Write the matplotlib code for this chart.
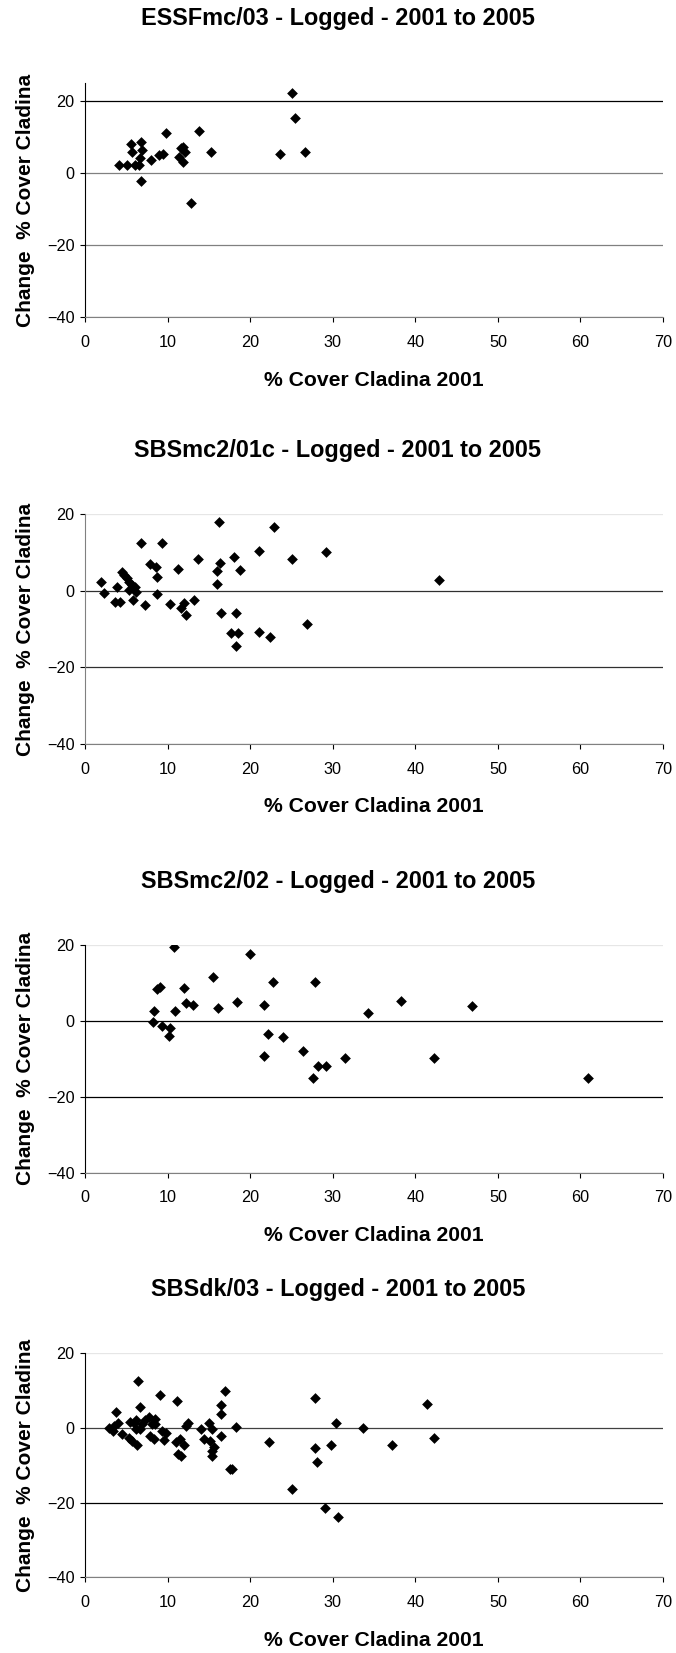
import matplotlib
matplotlib.use("Agg")
import matplotlib.pyplot as plt

plt.rcParams["font.family"] = ["Liberation Sans", "DejaVu Sans"]

# panel titles
titles = [
    "ESSFmc/03 - Logged - 2001 to 2005",
    "SBSmc2/01c - Logged - 2001 to 2005",
    "SBSmc2/02 - Logged - 2001 to 2005",
    "SBSdk/03 - Logged - 2001 to 2005",
]

# ESSFmc/03
essf_x = [4.1, 5.1, 5.5, 5.7, 6.0, 6.5, 6.7, 6.9, 6.6, 6.7, 8.0, 8.9, 9.4, 9.8,
          11.4, 11.6, 11.8, 12.1, 11.8, 12.8, 13.8, 15.2, 23.6, 25.0, 25.4, 26.6]
essf_y = [2.2, 2.2, 8.2, 5.9, 2.2, 2.2, 8.7, 6.4, 4.3, -2.2, 3.6, 5.0, 5.4, 11.3,
          4.5, 7.0, 3.1, 5.9, 7.3, -8.3, 11.8, 5.8, 5.4, 22.2, 15.3, 5.8]

# SBSmc2/01c
mc01_x = [1.9, 2.3, 3.8, 3.6, 4.2, 4.4, 4.7, 5.1, 5.3, 5.7, 6.0, 5.3, 6.2, 5.8,
          7.2, 6.8, 7.9, 8.6, 8.7, 8.7, 9.3, 10.3, 11.2, 11.6, 11.9, 12.2, 13.2,
          13.6, 15.9, 16.0, 16.3, 16.2, 16.5, 18.0, 17.7, 18.3, 18.5, 18.3, 18.8,
          21.1, 21.1, 22.4, 22.9, 25.1, 26.9, 29.2, 42.8]
mc01_y = [2.3, -0.5, 0.9, -3.0, -3.0, 5.0, 4.2, 3.3, 2.4, 1.6, 1.0, 0.3, -0.4, -2.5,
          -3.8, 12.6, 7.0, 6.3, 3.7, -0.9, 12.6, -3.4, 5.7, -4.5, -3.2, -6.3, -2.3,
          8.3, 5.2, 1.7, 7.2, 18.0, -5.8, 8.8, -10.9, -5.8, -10.9, -14.3, 5.4,
          10.4, -10.8, -12.0, 16.7, 8.3, -8.7, 10.1, 2.9]

# SBSmc2/02
mc02_x = [8.15, 8.3, 8.7, 9.1, 9.3, 10.1, 10.3, 10.7, 10.9, 12.0, 12.2, 13.0,
          15.5, 16.1, 18.4, 20.0, 21.7, 21.7, 22.1, 22.8, 24.0, 26.4, 27.6, 27.8,
          28.2, 29.2, 31.5, 34.2, 38.2, 42.2, 46.8, 60.9]
mc02_y = [-0.35, 2.6, 8.4, 8.9, -1.3, -3.9, -1.8, 19.5, 2.5, 8.5, 4.6, 4.1,
          11.4, 3.3, 4.8, 17.6, 4.1, -9.3, -3.4, 10.1, -4.2, -8.1, -15.2, 10.1,
          -11.8, -11.8, -9.7, 2.1, 5.1, -9.9, 3.8, -15.2]

# SBSdk/03
dk_x = [2.9, 3.3, 3.5, 3.7, 4.0, 4.5, 5.3, 5.4, 5.6, 5.9, 6.2, 6.2, 6.3, 6.4,
        6.6, 6.6, 6.9, 7.2, 7.7, 8.1, 8.5, 7.9, 8.3, 8.4, 9.0, 9.3, 9.5, 9.8,
        11.1, 11.0, 11.5, 11.2, 11.6, 12.0, 12.2, 12.5, 14.0, 14.4, 15.0, 15.1,
        15.4, 15.6, 15.4, 15.4, 16.4, 16.4, 16.4, 16.9, 17.5, 17.8, 18.3, 22.3,
        25.1, 27.8, 27.8, 28.1, 29.0, 29.8, 30.4, 30.6, 33.7, 37.2, 41.4, 42.3]
dk_y = [0.0, -0.8, 0.4, 4.3, 1.3, -1.8, -2.7, 1.5, -3.6, 1.2, 2.1, -0.3, -4.5, 12.4,
        5.5, -0.4, 1.1, 2.2, 2.9, 1.1, 2.4, -2.2, -2.9, 0.9, 8.7, -0.9, -3.3, -1.5,
        7.2, -3.8, -3.1, -7.0, -7.6, -4.6, 0.4, 1.3, -0.2, -2.9, 1.3, -3.6,
        -0.4, -5.1, -6.3, -7.6, 6.0, 3.8, -2.2, 9.8, -10.9, -10.9, 0.2, -3.8,
        -16.4, 7.9, -5.3, -9.1, -21.5, -4.5, 1.2, -23.8, -0.1, -4.5, 6.3, -2.7]

xs = [essf_x, mc01_x, mc02_x, dk_x]
ys = [essf_y, mc01_y, mc02_y, dk_y]
ytops = [25, 20, 20, 20]

# gridline colours at -40, -20, 0, 20 and left spine colour per panel
grid_cols = [
    ["#808080", "#808080", "#808080", "#000000"],
    ["#808080", "#303030", "#303030", "#e6e6e6"],
    ["#808080", "#000000", "#000000", "#e6e6e6"],
    ["#808080", "#000000", "#404040", "#e6e6e6"],
]
spine_cols = ["#000000", "#808080", "#000000", "#000000"]

# axes boxes in pixels: top, bottom
W, H = 676, 1653
boxes = [(83.3, 317.3), (514.3, 744.0), (944.7, 1172.7), (1353.0, 1577.3)]
title_y = [18.5, 450.0, 881.5, 1289.5]
left, right = 85.3, 663.0

fig = plt.figure(figsize=(W / 100, H / 100), dpi=100)

for i in range(4):
    top, bot = boxes[i]
    ax = fig.add_axes([left / W, 1 - bot / H, (right - left) / W, (bot - top) / H])
    ax.scatter(xs[i], ys[i], marker="D", s=30, color="black", linewidths=0, zorder=3)
    ax.set_xlim(0, 70)
    ax.set_ylim(-40, ytops[i])
    ax.set_xticks(range(0, 71, 10))
    ax.set_yticks([-40, -20, 0, 20])
    ax.tick_params(labelsize=11.7, length=3.6, width=0.8, pad=4)
    ax.tick_params(axis="x", pad=9)
    ax.grid(axis="y", linewidth=0.9, zorder=1)
    for gl, c in zip(ax.get_ygridlines(), grid_cols[i]):
        gl.set_color(c)
    ax.spines["top"].set_visible(False)
    ax.spines["right"].set_visible(False)
    ax.spines["left"].set_color(spine_cols[i])
    ax.spines["bottom"].set_color("#808080")
    ax.set_xlabel("% Cover Cladina 2001", fontsize=15.2, fontweight="bold", labelpad=15)
    ax.set_ylabel("Change  % Cover Cladina", fontsize=15, fontweight="bold")
    ax.yaxis.set_label_coords(-(left - 35) / (right - left), 0.5)
    fig.text(0.5, 1 - title_y[i] / H, titles[i], ha="center", va="center",
             fontsize=16.9, fontweight="bold")

fig.savefig("out.png", dpi=100)
